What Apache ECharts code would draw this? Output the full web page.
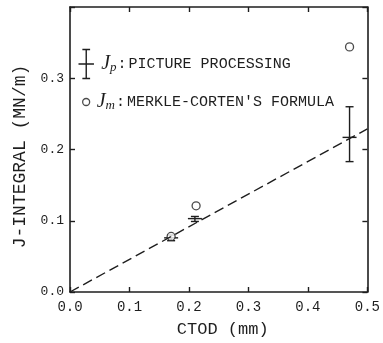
<!DOCTYPE html>
<html>
<head>
<meta charset="utf-8">
<script src="https://cdn.jsdelivr.net/npm/echarts@6/dist/echarts.min.js"></script>
<style>
  html, body { margin:0; padding:0; background:#fff; }
  #chart { width:383px; height:343px; }
</style>
</head>
<body>
<div id="chart"></div>
<script>
// J-integral vs CTOD
var xTickLabels = ['0.0', '0.1', '0.2', '0.3', '0.4', '0.5'];
var yTickLabels = ['0.0', '0.1', '0.2', '0.3', ''];

// Jp : picture processing (value with error range)
var jpX = [0.17, 0.21, 0.47];
var jpY = [0.076, 0.103, 0.217];
var jpLow = [0.072, 0.099, 0.183];
var jpHigh = [0.080, 0.106, 0.26];

// Jm : Merkle-Corten's formula
var jmX = [0.17, 0.212, 0.47];
var jmY = [0.078, 0.121, 0.344];

// dashed fit line
var fitX = [0, 0.5];
var fitY = [0, 0.229];

var ink = '#1e1e1e';
var mono = 'Liberation Mono';

var chart = echarts.init(document.getElementById('chart'));

function errorBar(params, api) {
    var x = api.value(0);
    var c = api.coord([x, api.value(1)]);
    var lo = api.coord([x, api.value(2)]);
    var hi = api.coord([x, api.value(3)]);
    var st = { stroke: ink, lineWidth: 1.4 };
    return {
        type: 'group',
        children: [
            { type: 'line', shape: { x1: lo[0], y1: lo[1], x2: hi[0], y2: hi[1] }, style: st },
            { type: 'line', shape: { x1: hi[0] - 4, y1: hi[1], x2: hi[0] + 4, y2: hi[1] }, style: st },
            { type: 'line', shape: { x1: lo[0] - 4, y1: lo[1], x2: lo[0] + 4, y2: lo[1] }, style: st },
            { type: 'line', shape: { x1: c[0] - 7, y1: c[1], x2: c[0] + 7, y2: c[1] }, style: st }
        ]
    };
}

var legendRich = {
    j: { fontFamily: 'Liberation Serif', fontStyle: 'italic', fontSize: 20, color: ink, lineHeight: 20, padding: [0, 0, 0, 2] },
    s: { fontFamily: 'Liberation Serif', fontStyle: 'italic', fontSize: 13, color: ink, verticalAlign: 'bottom', lineHeight: 14, padding: [6, 0, 0, 0] },
    c: { fontFamily: mono, fontSize: 15, color: ink, lineHeight: 20, padding: [0, 2, 0, 1] },
    t: { fontFamily: mono, fontSize: 15, color: ink, lineHeight: 20 }
};

var option = {
    animation: false,
    backgroundColor: '#fff',
    grid: { left: 70, right: 12, top: 7, bottom: 48 },
    legend: [
        {
            data: [{ name: 'Jp', icon: 'path://M0,0H8M4,0V30M0,30H8M-4,15H12' }],
            left: 71, top: 42,
            itemWidth: 16, itemHeight: 29,
            itemStyle: { color: 'none', borderColor: ink, borderWidth: 1.4 },
            formatter: function () { return '{j|J}{s|p}{c|:}{t|PICTURE PROCESSING}'; },
            textStyle: { rich: legendRich }
        },
        {
            data: [{ name: 'Jm', icon: 'circle' }],
            left: 77, top: 87,
            itemWidth: 7, itemHeight: 7,
            itemStyle: { color: '#fff', borderColor: ink, borderWidth: 1.3 },
            formatter: function () { return '{j|J}{s|m}{c|:}{t|MERKLE-CORTEN\'S FORMULA}'; },
            textStyle: { rich: legendRich }
        }
    ],
    xAxis: [
        {
            type: 'value', min: 0, max: 0.5, interval: 0.1, position: 'bottom',
            name: 'CTOD (mm)', nameLocation: 'middle', nameGap: 29,
            nameTextStyle: { fontFamily: mono, fontSize: 17, color: ink, padding: [0, 0, 0, 8] },
            axisLine: { show: true, onZero: false, lineStyle: { color: ink, width: 1.6 } },
            axisTick: { show: true, inside: true, length: 5, lineStyle: { color: ink, width: 1.4 } },
            axisLabel: { margin: 8, fontFamily: mono, fontSize: 14, color: ink,
                formatter: function (v, i) { return xTickLabels[i]; } },
            splitLine: { show: false }
        },
        {
            type: 'value', min: 0, max: 0.5, interval: 0.1, position: 'top',
            axisLine: { show: true, onZero: false, lineStyle: { color: ink, width: 1.6 } },
            axisTick: { show: true, inside: true, length: 5, lineStyle: { color: ink, width: 1.4 } },
            axisLabel: { show: false },
            splitLine: { show: false }
        }
    ],
    yAxis: [
        {
            type: 'value', min: 0, max: 0.4, interval: 0.1, position: 'left',
            name: 'J-INTEGRAL (MN/m)', nameLocation: 'middle', nameGap: 40,
            nameTextStyle: { fontFamily: mono, fontSize: 18, color: ink, padding: [0, 14, 0, 0] },
            axisLine: { show: true, onZero: false, lineStyle: { color: ink, width: 1.6 } },
            axisTick: { show: true, inside: true, length: 5, lineStyle: { color: ink, width: 1.4 } },
            axisLabel: { margin: 6, fontFamily: mono, fontSize: 13, color: ink,
                formatter: function (v, i) { return yTickLabels[i]; } },
            splitLine: { show: false }
        },
        {
            type: 'value', min: 0, max: 0.4, interval: 0.1, position: 'right',
            axisLine: { show: true, onZero: false, lineStyle: { color: ink, width: 1.6 } },
            axisTick: { show: true, inside: true, length: 5, lineStyle: { color: ink, width: 1.4 } },
            axisLabel: { show: false },
            splitLine: { show: false }
        }
    ],
    series: [
        {
            name: 'fit', type: 'line', showSymbol: false, silent: true,
            data: fitX.map(function (x, i) { return [x, fitY[i]]; }),
            lineStyle: { color: ink, width: 1.4, type: [10, 5] }
        },
        {
            name: 'Jp', type: 'custom', renderItem: errorBar,
            encode: { x: 0, y: 1 },
            data: jpX.map(function (x, i) { return [x, jpY[i], jpLow[i], jpHigh[i]]; })
        },
        {
            name: 'Jm', type: 'scatter', symbol: 'circle', symbolSize: 8,
            itemStyle: { color: '#fff', borderColor: ink, borderWidth: 1.3 },
            data: jmX.map(function (x, i) { return [x, jmY[i]]; })
        }
    ]
};

chart.setOption(option);
</script>
</body>
</html>
